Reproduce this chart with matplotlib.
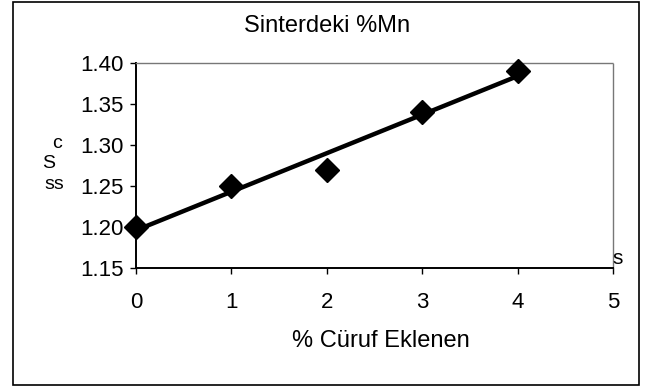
import numpy as np
import matplotlib
matplotlib.use("Agg")
import matplotlib.pyplot as plt
from matplotlib.patches import Rectangle

plt.rcParams['font.family'] = ['Liberation Sans', 'DejaVu Sans']

x_vals = [0, 1, 2, 3, 4]
mn_vals = [1.20, 1.25, 1.27, 1.34, 1.39]
x_ticks = [0, 1, 2, 3, 4, 5]
y_ticks = [1.15, 1.20, 1.25, 1.30, 1.35, 1.40]
title = "Sinterdeki %Mn"
xlabel = "% Cüruf Eklenen"

W, H = 653, 389
fig = plt.figure(figsize=(W / 100, H / 100), dpi=100)

# outer frame
fig.patches.append(Rectangle((13 / W, 1 - 385 / H), (639 - 13) / W, (385 - 2) / H,
                             transform=fig.transFigure, fill=False,
                             edgecolor='black', linewidth=1.2))

ax = fig.add_axes([136 / W, 1 - 268 / H, (613 - 136) / W, (268 - 63) / H])
ax.set_xlim(0, 5)
ax.set_ylim(1.15, 1.40)

coef = np.polyfit(x_vals, mn_vals, 1)
xf = np.array([x_vals[0], x_vals[-1]])
ax.plot(xf, np.polyval(coef, xf), color='black', linewidth=3.2, zorder=2)
ax.plot(x_vals, mn_vals, linestyle='none', marker='D', markersize=12,
        color='black', clip_on=False, zorder=3)

ax.set_xticks(x_ticks)
ax.set_xticklabels([str(t) for t in x_ticks])
ax.set_yticks(y_ticks)
ax.set_yticklabels([f"{t:.2f}" for t in y_ticks])
ax.tick_params(axis='both', direction='out', length=4, width=1, colors='black',
               labelsize=16)
ax.tick_params(axis='x', pad=13)
ax.tick_params(axis='y', pad=5)

for s in ['top', 'right']:
    ax.spines[s].set_linestyle((0, (1, 1)))
    ax.spines[s].set_color('#777777')
    ax.spines[s].set_linewidth(1)
for s in ['left', 'bottom']:
    ax.spines[s].set_color('black')
    ax.spines[s].set_linewidth(1.4)

fig.text(327 / W, 1 - 26 / H, title, ha='center', va='center', fontsize=17)
fig.text(381 / W, 1 - 341 / H, xlabel, ha='center', va='center', fontsize=17)
fig.text(57 / W, 1 - 144 / H, "c", ha='center', va='center', fontsize=14)
fig.text(49 / W, 1 - 164 / H, "S", ha='center', va='center', fontsize=14)
fig.text(54 / W, 1 - 185 / H, "ss", ha='center', va='center', fontsize=14)
fig.text(618 / W, 1 - 258 / H, "s", ha='center', va='center', fontsize=15)

fig.savefig("out.png", dpi=100)
